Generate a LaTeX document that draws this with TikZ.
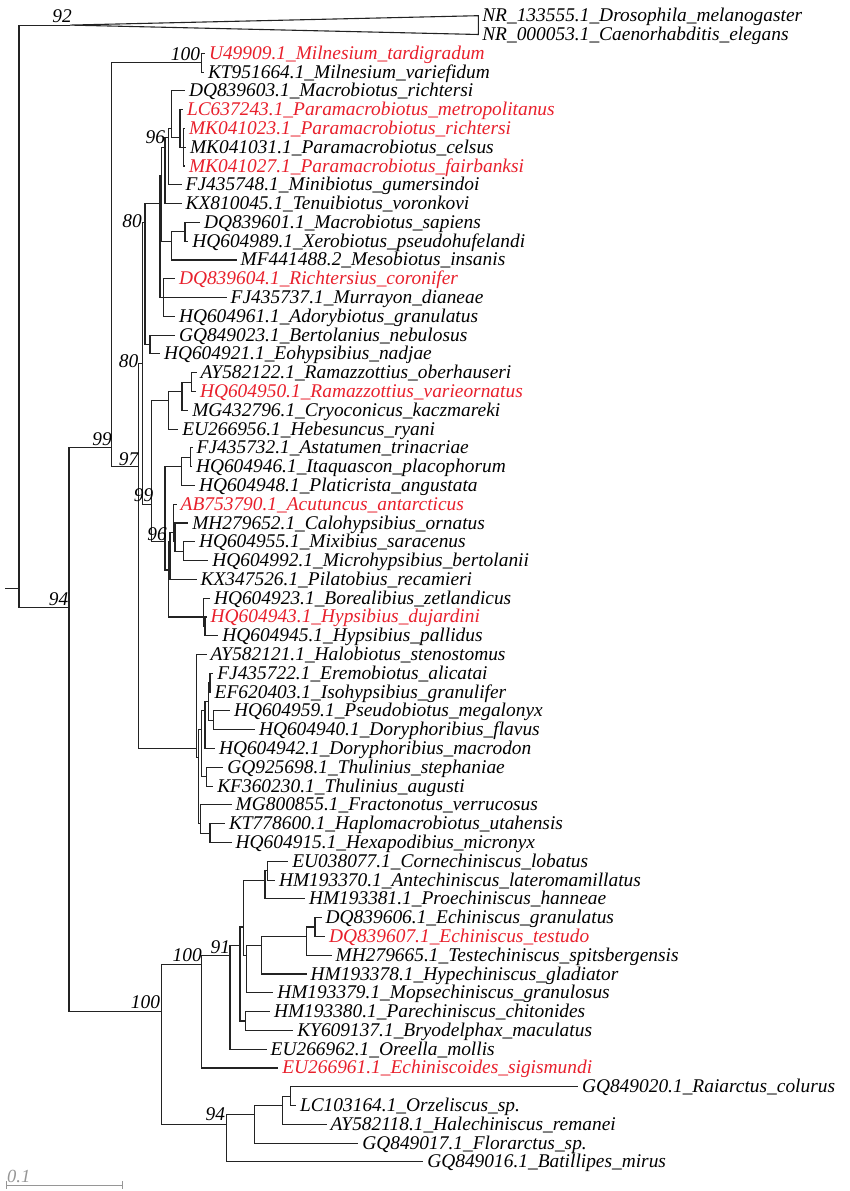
\documentclass[tikz,border=0pt]{standalone}
\usepackage{fontspec}
\setmainfont{Liberation Serif}
\definecolor{redlab}{RGB}{232,32,44}
\definecolor{brc}{RGB}{35,35,35}
\definecolor{scalec}{RGB}{150,150,150}
\tikzset{
  br/.style={draw=brc, line width=1.1pt},
  leaf/.style={anchor=base west, inner sep=0pt, outer sep=0pt, font=\fontsize{19.4}{22}\selectfont\itshape, text=black},
  redleaf/.style={text=redlab},
  supp/.style={anchor=base east, inner sep=0pt, outer sep=0pt, font=\fontsize{19.4}{22}\selectfont\itshape, text=black},
  scalebar/.style={draw=scalec, line width=1pt},
  scaletext/.style={anchor=base west, inner sep=0pt, font=\fontsize{18.5}{20}\selectfont\itshape, text=scalec}
}
\newcommand{\nd}[4]{\coordinate (#1) at (#2,{15.7+18.79*((#3+#4)/2-1)});}
\newcommand{\lf}[5]{\coordinate (#1) at (#2,{15.7+18.79*(#3-1)});
  \node[leaf,#4] (t#1) at ([xshift=4pt,yshift=-6pt]#1) {#5};}
\newcommand{\ed}[2]{\draw[br] (#1) |- (#2);}
\newcommand{\bs}[4]{\node[supp] (#1) at (#2,#3) {#4};}
\begin{document}
\begin{tikzpicture}[x=1pt,y=-1pt]
\path[use as bounding box] (0,0) rectangle (849,1191);
% internal nodes
\coordinate (stub) at (5,{15.7+18.79*30.5});
\nd{R0}{19}{1}{62}
\nd{O}{70}{1}{2}
\nd{IG}{69}{3}{62}
\nd{E}{111.7}{3}{45}
\nd{Mil}{201.7}{3}{4}
\nd{P}{138.3}{5}{45}
\nd{A}{142.5}{5}{34}
\nd{M13}{145}{5}{19}
\nd{M12}{160}{5}{17}
\nd{M8}{161.7}{5}{14}
\nd{M5}{165}{5}{11}
\nd{M4}{168.3}{5}{10}
\nd{M3}{171.7}{5}{9}
\nd{M2}{180}{6}{9}
\nd{M1}{183.3}{7}{9}
\nd{M6}{171.7}{12}{14}
\nd{M7}{185}{12}{13}
\nd{M11}{160.7}{15}{17}
\nd{M10}{163.3}{16}{16}
\nd{B1}{150}{18}{19}
\nd{H}{151.7}{20}{34}
\nd{R}{168.3}{20}{23}
\nd{R2}{182}{20}{22}
\nd{R3}{191.7}{20}{21}
\nd{H2}{165}{24}{34}
\nd{H3}{181.7}{24}{26}
\nd{H3a}{190.7}{24}{25}
\nd{H4}{168.3}{27}{34}
\nd{H5}{170}{27}{31}
\nd{H6}{173.3}{27}{30}
\nd{H7}{175}{28}{30}
\nd{H8}{183.3}{29}{30}
\nd{Hyp}{203.3}{32}{34}
\nd{Hyp2}{205}{33}{34}
\nd{I}{196.7}{35}{45}
\nd{I2}{198.3}{36}{45}
\nd{I3}{201.7}{36}{42}
\nd{I10}{205}{36}{40}
\nd{I9}{208.3}{36}{39}
\nd{I6}{210}{36}{37}
\nd{I7}{213.3}{38}{39}
\nd{I8}{206.7}{41}{42}
\nd{I4}{200.7}{43}{45}
\nd{I5}{210}{44}{45}
\nd{HT}{161.7}{46}{62}
\nd{Ech}{201.7}{46}{57}
\nd{Ech2}{230}{46}{56}
\nd{Ech3}{240}{46}{55}
\nd{EchX}{243.3}{46}{53}
\nd{EchA}{265}{46}{48}
\nd{EchA2}{267.7}{46}{47}
\nd{EchY}{246.7}{49}{53}
\nd{EchZ}{261.7}{49}{52}
\nd{EchW}{306.7}{49}{51}
\nd{EchV}{315}{49}{50}
\nd{Ech5}{245.7}{54}{55}
\nd{Arth}{226.7}{58}{62}
\nd{Arth2}{254.3}{58}{61}
\nd{Arth3}{282.7}{58}{60}
\nd{Arth4}{290.7}{58}{59}
% leaves
\lf{L1}{478.3}{1}{}{NR\_133555.1\_Drosophila\_melanogaster}
\lf{L2}{478.3}{2}{}{NR\_000053.1\_Caenorhabditis\_elegans}
\lf{L3}{205}{3}{redleaf}{U49909.1\_Milnesium\_tardigradum}
\lf{L4}{204}{4}{}{KT951664.1\_Milnesium\_variefidum}
\lf{L5}{185}{5}{}{DQ839603.1\_Macrobiotus\_richtersi}
\lf{L6}{183}{6}{redleaf}{LC637243.1\_Paramacrobiotus\_metropolitanus}
\lf{L7}{185}{7}{redleaf}{MK041023.1\_Paramacrobiotus\_richtersi}
\lf{L8}{186}{8}{}{MK041031.1\_Paramacrobiotus\_celsus}
\lf{L9}{185}{9}{redleaf}{MK041027.1\_Paramacrobiotus\_fairbanksi}
\lf{L10}{181.7}{10}{}{FJ435748.1\_Minibiotus\_gumersindoi}
\lf{L11}{181.7}{11}{}{KX810045.1\_Tenuibiotus\_voronkovi}
\lf{L12}{200}{12}{}{DQ839601.1\_Macrobiotus\_sapiens}
\lf{L13}{188.3}{13}{}{HQ604989.1\_Xerobiotus\_pseudohufelandi}
\lf{L14}{236.7}{14}{}{MF441488.2\_Mesobiotus\_insanis}
\lf{L15}{175}{15}{redleaf}{DQ839604.1\_Richtersius\_coronifer}
\lf{L16}{226.7}{16}{}{FJ435737.1\_Murrayon\_dianeae}
\lf{L17}{175}{17}{}{HQ604961.1\_Adorybiotus\_granulatus}
\lf{L18}{175}{18}{}{GQ849023.1\_Bertolanius\_nebulosus}
\lf{L19}{160}{19}{}{HQ604921.1\_Eohypsibius\_nadjae}
\lf{L20}{196.7}{20}{}{AY582122.1\_Ramazzottius\_oberhauseri}
\lf{L21}{196}{21}{redleaf}{HQ604950.1\_Ramazzottius\_varieornatus}
\lf{L22}{188.3}{22}{}{MG432796.1\_Cryoconicus\_kaczmareki}
\lf{L23}{178.3}{23}{}{EU266956.1\_Hebesuncus\_ryani}
\lf{L24}{192.7}{24}{}{FJ435732.1\_Astatumen\_trinacriae}
\lf{L25}{192}{25}{}{HQ604946.1\_Itaquascon\_placophorum}
\lf{L26}{195}{26}{}{HQ604948.1\_Platicrista\_angustata}
\lf{L27}{176.7}{27}{redleaf}{AB753790.1\_Acutuncus\_antarcticus}
\lf{L28}{188.3}{28}{}{MH279652.1\_Calohypsibius\_ornatus}
\lf{L29}{195}{29}{}{HQ604955.1\_Mixibius\_saracenus}
\lf{L30}{208.3}{30}{}{HQ604992.1\_Microhypsibius\_bertolanii}
\lf{L31}{196.7}{31}{}{KX347526.1\_Pilatobius\_recamieri}
\lf{L32}{210}{32}{}{HQ604923.1\_Borealibius\_zetlandicus}
\lf{L33}{206.7}{33}{redleaf}{HQ604943.1\_Hypsibius\_dujardini}
\lf{L34}{218.3}{34}{}{HQ604945.1\_Hypsibius\_pallidus}
\lf{L35}{206.7}{35}{}{AY582121.1\_Halobiotus\_stenostomus}
\lf{L36}{213.3}{36}{}{FJ435722.1\_Eremobiotus\_alicatai}
\lf{L37}{210.7}{37}{}{EF620403.1\_Isohypsibius\_granulifer}
\lf{L38}{230}{38}{}{HQ604959.1\_Pseudobiotus\_megalonyx}
\lf{L39}{255}{39}{}{HQ604940.1\_Doryphoribius\_flavus}
\lf{L40}{215}{40}{}{HQ604942.1\_Doryphoribius\_macrodon}
\lf{L41}{223.3}{41}{}{GQ925698.1\_Thulinius\_stephaniae}
\lf{L42}{213.3}{42}{}{KF360230.1\_Thulinius\_augusti}
\lf{L43}{231.7}{43}{}{MG800855.1\_Fractonotus\_verrucosus}
\lf{L44}{225}{44}{}{KT778600.1\_Haplomacrobiotus\_utahensis}
\lf{L45}{231.7}{45}{}{HQ604915.1\_Hexapodibius\_micronyx}
\lf{L46}{288.3}{46}{}{EU038077.1\_Cornechiniscus\_lobatus}
\lf{L47}{275}{47}{}{HM193370.1\_Antechiniscus\_lateromamillatus}
\lf{L48}{305}{48}{}{HM193381.1\_Proechiniscus\_hanneae}
\lf{L49}{321.7}{49}{}{DQ839606.1\_Echiniscus\_granulatus}
\lf{L50}{325}{50}{redleaf}{DQ839607.1\_Echiniscus\_testudo}
\lf{L51}{331.7}{51}{}{MH279665.1\_Testechiniscus\_spitsbergensis}
\lf{L52}{306.7}{52}{}{HM193378.1\_Hypechiniscus\_gladiator}
\lf{L53}{273.3}{53}{}{HM193379.1\_Mopsechiniscus\_granulosus}
\lf{L54}{270}{54}{}{HM193380.1\_Parechiniscus\_chitonides}
\lf{L55}{293.3}{55}{}{KY609137.1\_Bryodelphax\_maculatus}
\lf{L56}{266.7}{56}{}{EU266962.1\_Oreella\_mollis}
\lf{L57}{278.3}{57}{redleaf}{EU266961.1\_Echiniscoides\_sigismundi}
\lf{L58}{578}{58}{}{GQ849020.1\_Raiarctus\_colurus}
\lf{L59}{296}{59}{}{LC103164.1\_Orzeliscus\_sp.}
\lf{L60}{326.7}{60}{}{AY582118.1\_Halechiniscus\_remanei}
\lf{L61}{358.3}{61}{}{GQ849017.1\_Florarctus\_sp.}
\lf{L62}{423.3}{62}{}{GQ849016.1\_Batillipes\_mirus}
% branches
\draw[br] (stub) -- (R0);
\ed{R0}{O} \ed{R0}{IG}
\draw[br] (O) -- (L1) -- (L2) -- cycle;
\ed{IG}{E} \ed{IG}{HT}
\ed{E}{Mil} \ed{E}{P}
\ed{Mil}{L3} \ed{Mil}{L4}
\ed{P}{A} \ed{P}{I}
\ed{A}{M13} \ed{A}{H}
\ed{M13}{M12} \ed{M13}{B1}
\ed{M12}{M8} \ed{M12}{M11}
\ed{M8}{M5} \ed{M8}{M6}
\ed{M5}{M4} \ed{M5}{L11}
\ed{M4}{M3} \ed{M4}{L10}
\ed{M3}{L5} \ed{M3}{M2}
\ed{M2}{L6} \ed{M2}{M1}
\ed{M1}{L7} \ed{M1}{L8} \ed{M1}{L9}
\ed{M6}{M7} \ed{M6}{L14}
\ed{M7}{L12} \ed{M7}{L13}
\ed{M11}{M10} \ed{M11}{L16}
\ed{M10}{L15} \ed{M10}{L17}
\ed{B1}{L18} \ed{B1}{L19}
\ed{H}{R} \ed{H}{H2}
\ed{R}{R2} \ed{R}{L23}
\ed{R2}{R3} \ed{R2}{L22}
\ed{R3}{L20} \ed{R3}{L21}
\ed{H2}{H3} \ed{H2}{H4}
\ed{H3}{H3a} \ed{H3}{L26}
\ed{H3a}{L24} \ed{H3a}{L25}
\ed{H4}{H5} \ed{H4}{Hyp}
\ed{H5}{H6} \ed{H5}{L31}
\ed{H6}{L27} \ed{H6}{H7}
\ed{H7}{L28} \ed{H7}{H8}
\ed{H8}{L29} \ed{H8}{L30}
\ed{Hyp}{L32} \ed{Hyp}{Hyp2}
\ed{Hyp2}{L33} \ed{Hyp2}{L34}
\ed{I}{L35} \ed{I}{I2}
\ed{I2}{I3} \ed{I2}{I4}
\ed{I3}{I10} \ed{I3}{I8}
\ed{I10}{I9} \ed{I10}{L40}
\ed{I9}{I6} \ed{I9}{I7}
\ed{I6}{L36} \ed{I6}{L37}
\ed{I7}{L38} \ed{I7}{L39}
\ed{I8}{L41} \ed{I8}{L42}
\ed{I4}{L43} \ed{I4}{I5}
\ed{I5}{L44} \ed{I5}{L45}
\ed{HT}{Ech} \ed{HT}{Arth}
\ed{Ech}{Ech2} \ed{Ech}{L57}
\ed{Ech2}{Ech3} \ed{Ech2}{L56}
\ed{Ech3}{EchX} \ed{Ech3}{Ech5}
\ed{EchX}{EchA} \ed{EchX}{EchY}
\ed{EchA}{EchA2} \ed{EchA}{L48}
\ed{EchA2}{L46} \ed{EchA2}{L47}
\ed{EchY}{EchZ} \ed{EchY}{L53}
\ed{EchZ}{EchW} \ed{EchZ}{L52}
\ed{EchW}{EchV} \ed{EchW}{L51}
\ed{EchV}{L49} \ed{EchV}{L50}
\ed{Ech5}{L54} \ed{Ech5}{L55}
\ed{Arth}{Arth2} \ed{Arth}{L62}
\ed{Arth2}{Arth3} \ed{Arth2}{L61}
\ed{Arth3}{Arth4} \ed{Arth3}{L60}
\ed{Arth4}{L58} \ed{Arth4}{L59}
% support values
\bs{s92}{71.7}{23}{92}
\bs{s100a}{200}{60}{100}
\bs{s96a}{165}{143}{96}
\bs{s80a}{141.7}{227}{80}
\bs{s80b}{138.3}{367}{80}
\bs{s99a}{111.7}{445}{99}
\bs{s97}{138.3}{465}{97}
\bs{s99b}{153.3}{501.7}{99}
\bs{s96b}{166.7}{540}{96}
\bs{s94a}{68.3}{605}{94}
\bs{s100b}{160}{1008}{100}
\bs{s100c}{201.7}{961.7}{100}
\bs{s91}{230}{953}{91}
\bs{s94b}{225}{1120}{94}
% scale bar
\coordinate (sb0) at (6,1185);
\coordinate (sb1) at (122.7,1185);
\draw[scalebar] (sb0) -- (sb1);
\draw[scalebar] ([yshift=4pt]sb0) -- ([yshift=-4pt]sb0);
\draw[scalebar] ([yshift=4pt]sb1) -- ([yshift=-4pt]sb1);
\node[scaletext] (sbl) at (7,1182) {0.1};
\end{tikzpicture}
\end{document}
